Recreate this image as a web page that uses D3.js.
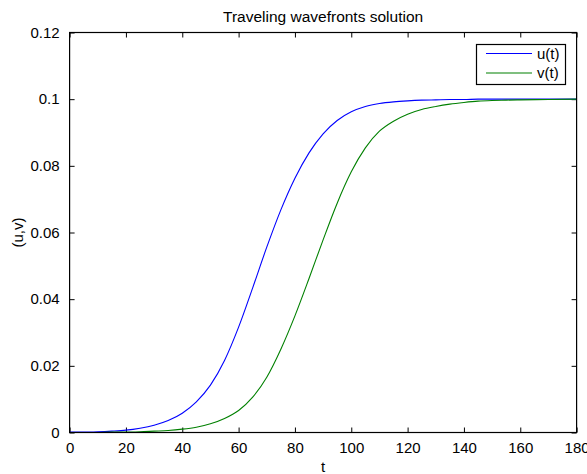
<!DOCTYPE html>
<html><head><meta charset="utf-8">
<script src="https://cdn.jsdelivr.net/npm/d3@7"></script>
<style>
html,body{margin:0;padding:0;background:#fff;}
text{font-family:"Liberation Sans",Arial,sans-serif;}
</style></head>
<body>
<svg id="c" width="587" height="474"></svg>
<script>
const tValues = [0,5,10,15,20,25,30,35,40,45,50,55,60,65,70,75,80,85,90,95,100,105,110,115,120,125,130,135,140,145,150,155,160,170,180];
const uValues = [0.0001,0.0001,0.0002,0.0004,0.0007,0.0013,0.0022,0.0036,0.0058,0.0092,0.0142,0.0216,0.0316,0.0434,0.0556,0.0668,0.0763,0.0839,0.0896,0.0936,0.0962,0.0978,0.0987,0.0992,0.0995,0.0997,0.0998,0.0999,0.0999,0.1000,0.1000,0.1000,0.1000,0.1000,0.1000];
const vValues = [0.0000,0.0000,0.0000,0.0001,0.0001,0.0002,0.0004,0.0006,0.0010,0.0016,0.0026,0.0042,0.0066,0.0106,0.0166,0.0250,0.0350,0.0462,0.0578,0.0688,0.0782,0.0854,0.0904,0.0934,0.0955,0.0969,0.0978,0.0985,0.0990,0.0994,0.0996,0.0997,0.0998,0.0999,0.1000];
const xTicks = [0,20,40,60,80,100,120,140,160,180];
const yTicks = [0,0.02,0.04,0.06,0.08,0.1,0.12];
const seriesNames = ["u(t)","v(t)"];
const seriesColors = ["#0000ff","#008000"];

const L=69.6, R=576.6, T=32.5, B=432.5;
const svg=d3.select("#c");
const x=d3.scaleLinear().domain([0,180]).range([L,R]);
const y=d3.scaleLinear().domain([0,0.12]).range([B,T]);
const fs=15;

const ax=(g,axis)=>{g.call(axis);g.select(".domain").remove();g.selectAll(".tick line").attr("stroke","#000");};
svg.append("g").attr("transform",`translate(0,${B})`)
  .call(g=>ax(g,d3.axisBottom(x).tickValues(xTicks).tickSizeInner(-5).tickSizeOuter(0).tickPadding(10).tickFormat(d3.format("d"))))
  .selectAll("text").attr("font-size",fs).attr("fill","#000").attr("font-family","Liberation Sans, Arial, sans-serif");
svg.append("g").attr("transform",`translate(0,${T})`)
  .call(g=>ax(g,d3.axisTop(x).tickValues(xTicks).tickSizeInner(-5).tickSizeOuter(0).tickFormat("")));
svg.append("g").attr("transform",`translate(${L},0)`)
  .call(g=>ax(g,d3.axisLeft(y).tickValues(yTicks).tickSizeInner(-5).tickSizeOuter(0).tickPadding(10).tickFormat(d=>d===0?"0":String(+d.toFixed(2)))))
  .selectAll("text").attr("font-size",fs).attr("fill","#000").attr("font-family","Liberation Sans, Arial, sans-serif");
svg.append("g").attr("transform",`translate(${R},0)`)
  .call(g=>ax(g,d3.axisRight(y).tickValues(yTicks).tickSizeInner(-5).tickSizeOuter(0).tickFormat("")));

const data=[uValues,vValues];
const line=d3.line().x((d,i)=>x(tValues[i])).y(d=>y(d)).curve(d3.curveMonotoneX);
data.forEach((s,k)=>{
  svg.append("path").attr("d",line(s)).attr("fill","none").attr("stroke",seriesColors[k]).attr("stroke-width",1.1);
});

svg.append("rect").attr("x",L).attr("y",T).attr("width",R-L).attr("height",B-T)
  .attr("fill","none").attr("stroke","#000").attr("stroke-width",1.2);

svg.append("text").attr("x",(L+R)/2).attr("y",22).attr("text-anchor","middle").attr("font-size",15.5).text("Traveling wavefronts solution");
svg.append("text").attr("x",(L+R)/2).attr("y",472).attr("text-anchor","middle").attr("font-size",fs).text("t");
svg.append("text").attr("transform",`translate(23,${(T+B)/2}) rotate(-90)`).attr("text-anchor","middle").attr("font-size",fs).text("(u,v)");

const lg=svg.append("g");
lg.append("rect").attr("x",476.5).attr("y",44.5).attr("width",89).attr("height",40).attr("fill","#fff").attr("stroke","#000").attr("stroke-width",1.2);
seriesNames.forEach((n,k)=>{
  const yy=53.5+k*19.5;
  lg.append("line").attr("x1",486).attr("x2",532).attr("y1",yy).attr("y2",yy).attr("stroke",seriesColors[k]).attr("stroke-width",1.1);
  lg.append("text").attr("x",537).attr("y",yy+5).attr("font-size",fs).text(n);
});
</script>
</body></html>
